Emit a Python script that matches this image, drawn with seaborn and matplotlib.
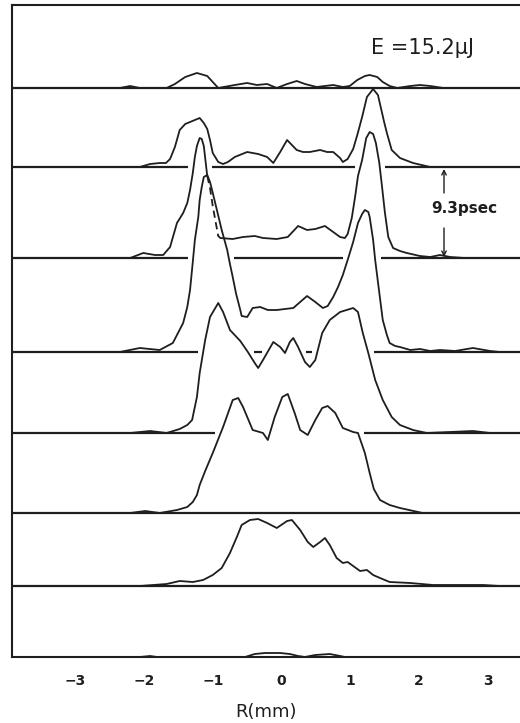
import numpy as np
import matplotlib
matplotlib.use("Agg")
import matplotlib.pyplot as plt
import seaborn as sns

sns.set_style("white")
plt.rcParams['font.family'] = ['DejaVu Sans']

# radial profiles R (mm) and heights above each trace's baseline (arb. units)
r1 = [-2.35, -2.20, -2.06, -1.67, -1.55, -1.40, -1.23, -1.08, -0.92, -0.68, -0.50, -0.36, -0.21, -0.07, 0.08, 0.22,
      0.34, 0.51, 0.75, 0.89, 0.99, 1.10, 1.21, 1.28, 1.39, 1.47, 1.57, 1.68, 1.87, 2.01, 2.16, 2.35]
h1 = [0, 2, 0, 0, 4, 11, 15, 12, 0, 3, 5, 3, 4, 0, 4, 7, 4, 1, 3, 1, 2, 8, 12, 13, 11, 6, 2, 0, 2, 3, 2, 0]

r2 = [-2.06, -1.91, -1.77, -1.68, -1.62, -1.55, -1.48, -1.40, -1.33, -1.26, -1.19, -1.13, -1.08, -1.04, -1.00, -0.92,
      -0.85, -0.78, -0.68, -0.50, -0.34, -0.21, -0.12, -0.02, 0.08, 0.15, 0.22, 0.31, 0.41, 0.56, 0.66, 0.75, 0.85,
      0.89, 0.96, 1.04, 1.10, 1.17, 1.24, 1.33, 1.40, 1.44, 1.49, 1.53, 1.60, 1.72, 1.91, 2.16]
h2 = [0, 3, 4, 4, 8, 20, 37, 43, 45, 47, 49, 44, 38, 27, 14, 5, 3, 5, 10, 15, 13, 10, 4, 15, 27, 22, 17, 15, 15, 17,
      15, 15, 9, 5, 8, 18, 32, 50, 70, 78, 72, 60, 45, 34, 17, 9, 4, 0]

r3 = [-2.20, -2.01, -1.84, -1.72, -1.62, -1.52, -1.43, -1.37, -1.33, -1.29, -1.26, -1.23, -1.19, -1.16, -1.13, -1.08,
      -1.04, -1.00, -0.95, -0.92, -0.89, -0.71, -0.56, -0.39, -0.27, -0.07, 0.09, 0.24, 0.37, 0.49, 0.63, 0.75, 0.85,
      0.92, 0.96, 1.02, 1.07, 1.11, 1.17, 1.23, 1.28, 1.33, 1.37, 1.42, 1.46, 1.50, 1.55, 1.62, 1.72, 1.82, 2.01,
      2.16, 2.30, 2.45, 2.66]
h3 = [0, 5, 3, 3, 11, 35, 45, 55, 68, 85, 101, 112, 120, 119, 112, 82, 70, 52, 33, 22, 20, 19, 21, 22, 20, 19, 21,
      32, 28, 29, 32, 26, 21, 20, 24, 40, 62, 82, 98, 120, 126, 124, 115, 95, 71, 46, 21, 10, 7, 5, 2, 1, 3, 1, 0]
dash3 = (-1.08, -0.92)  # portion of trace 3 drawn dashed

r4 = [-2.35, -2.06, -1.77, -1.58, -1.43, -1.37, -1.33, -1.29, -1.26, -1.21, -1.19, -1.16, -1.13, -1.08, -1.04, -1.01,
      -0.94, -0.87, -0.79, -0.75, -0.71, -0.66, -0.60, -0.58, -0.50, -0.42, -0.31, -0.20, -0.07, 0.05, 0.17, 0.27,
      0.37, 0.49, 0.60, 0.67, 0.75, 0.82, 0.89, 0.96, 1.04, 1.11, 1.17, 1.21, 1.26, 1.28, 1.33, 1.36, 1.40, 1.47,
      1.53, 1.57, 1.65, 1.72, 1.87, 2.01, 2.16, 2.30, 2.52, 2.78, 3.03, 3.17]
h4 = [0, 4, 2, 9, 29, 45, 62, 90, 112, 135, 152, 165, 175, 177, 170, 162, 142, 122, 102, 88, 75, 58, 42, 36, 35, 44,
      45, 42, 42, 43, 44, 50, 56, 50, 44, 46, 55, 65, 77, 92, 110, 129, 138, 142, 140, 135, 112, 92, 70, 32, 17, 9,
      6, 5, 2, 3, 1, 2, 1, 4, 1, 0]

r5 = [-2.20, -1.91, -1.67, -1.48, -1.37, -1.30, -1.23, -1.19, -1.11, -1.04, -0.92, -0.85, -0.75, -0.60, -0.49, -0.39,
      -0.34, -0.27, -0.12, -0.02, 0.05, 0.12, 0.17, 0.24, 0.34, 0.41, 0.49, 0.59, 0.70, 0.85, 1.04, 1.11, 1.18, 1.26,
      1.36, 1.47, 1.60, 1.72, 1.91, 2.11, 2.78, 3.03]
h5 = [0, 2, 0, 4, 8, 13, 36, 60, 93, 116, 130, 121, 103, 92, 81, 70, 65, 73, 91, 86, 80, 91, 95, 86, 71, 66, 73, 100,
      113, 121, 125, 121, 100, 80, 53, 33, 16, 8, 3, 0, 2, 0]

r6 = [-2.20, -1.98, -1.77, -1.52, -1.37, -1.29, -1.23, -1.19, -1.11, -1.00, -0.85, -0.71, -0.63, -0.56, -0.42, -0.27,
      -0.20, -0.10, 0.01, 0.09, 0.19, 0.27, 0.38, 0.49, 0.59, 0.67, 0.78, 0.89, 1.04, 1.11, 1.21, 1.28, 1.34, 1.43,
      1.57, 1.72, 2.05]
h6 = [0, 2, 0, 3, 6, 11, 18, 28, 42, 60, 86, 113, 115, 106, 83, 80, 73, 96, 116, 119, 100, 83, 78, 93, 105, 107, 100,
      85, 81, 80, 60, 40, 24, 13, 8, 5, 0]

r7 = [-2.06, -1.67, -1.48, -1.29, -1.14, -1.00, -0.87, -0.75, -0.65, -0.58, -0.46, -0.34, -0.21, -0.07, 0.08, 0.15,
      0.27, 0.38, 0.46, 0.56, 0.63, 0.70, 0.80, 0.89, 0.96, 1.04, 1.14, 1.24, 1.33, 1.43, 1.57, 1.87, 2.20, 2.93, 3.17]
h7 = [0, 2, 5, 4, 6, 11, 18, 33, 49, 61, 66, 67, 63, 58, 65, 66, 56, 44, 39, 44, 48, 41, 28, 23, 24, 20, 15, 16, 11,
      8, 4, 3, 1, 1, 0]

r8 = [-2.06, -1.91, -1.81, -0.53, -0.39, -0.24, -0.02, 0.12, 0.24, 0.34, 0.49, 0.70, 0.85, 0.92]
h8 = [0, 1, 0, 0, 3, 4, 4, 3, 1, 0, 2, 3, 1, 0]

# vertical position of each trace's zero line
offsets = [569, 490, 399, 305, 224, 144, 71, 0]
traces = [(r1, h1), (r2, h2), (r3, h3), (r4, h4), (r5, h5), (r6, h6), (r7, h7), (r8, h8)]

ink = '#1e1e1e'
xmin, xmax = -3.924, 3.464

fig = plt.figure(figsize=(5.2, 7.23), dpi=100)
ax = fig.add_axes([11.5 / 520, 66 / 723, 1 - 11.5 / 520, 652 / 723])

# zero lines, broken where a lower trace rises through them
grid = np.linspace(xmin, xmax, 3000)
pad = int(0.08 / (grid[1] - grid[0]))
for i, off in enumerate(offsets[:-1]):
    hidden = np.zeros(grid.size, bool)
    for (r, h), off2 in zip(traces[i + 1:], offsets[i + 1:]):
        hidden |= off2 + np.interp(grid, r, h, left=0, right=0) > off - 0.5
    hidden = np.convolve(hidden.astype(float), np.ones(2 * pad + 1), 'same') > 0
    edges = np.diff(np.r_[0, (~hidden).astype(int), 0])
    for s, e in zip(np.where(edges == 1)[0], np.where(edges == -1)[0] - 1):
        ax.hlines(off, grid[s], grid[e], color=ink, lw=1.6)

# the traces
for k, ((r, h), off) in enumerate(zip(traces, offsets)):
    r = np.array(r)
    y = np.array(h) + off
    if k == 2:
        a = np.where(np.isclose(r, dash3[0]))[0][0]
        b = np.where(np.isclose(r, dash3[1]))[0][0]
        pieces = [(slice(0, a + 1), '-'), (slice(a, b + 1), (0, (4, 2.5))), (slice(b, None), '-')]
    else:
        pieces = [(slice(None), '-')]
    for sl, ls in pieces:
        sns.lineplot(x=r[sl], y=y[sl], ax=ax, color=ink, lw=1.3, sort=False, estimator=None,
                     linestyle=ls, clip_on=False, solid_joinstyle='round', solid_capstyle='round')

ax.text(2.05, 609, 'E =15.2μJ', ha='center', va='center', fontsize=15, color=ink)
ax.text(2.66, 449, '9.3psec', ha='center', va='center', fontsize=11, fontweight='bold', color=ink)
ax.annotate('', xy=(2.36, 488), xytext=(2.36, 464),
            arrowprops=dict(arrowstyle='->', color=ink, lw=1.0, mutation_scale=8, shrinkA=0, shrinkB=0))
ax.annotate('', xy=(2.36, 400), xytext=(2.36, 429),
            arrowprops=dict(arrowstyle='->', color=ink, lw=1.0, mutation_scale=8, shrinkA=0, shrinkB=0))

ax.set_xlim(xmin, xmax)
ax.set_ylim(0, 652)
ax.set_xticks(range(-3, 4))
ax.set_yticks([])
ax.tick_params(axis='x', direction='in', length=6, width=1.3, pad=12, labelsize=10, colors=ink)
for lbl in ax.get_xticklabels():
    lbl.set_fontweight('bold')
ax.set_xlabel('R(mm)', fontsize=13, labelpad=11, color=ink)
ax.set_ylabel('')
for side in ['left', 'top', 'bottom']:
    ax.spines[side].set_color(ink)
    ax.spines[side].set_linewidth(1.5)
ax.spines['right'].set_visible(False)

fig.savefig('out.png', dpi=100)
